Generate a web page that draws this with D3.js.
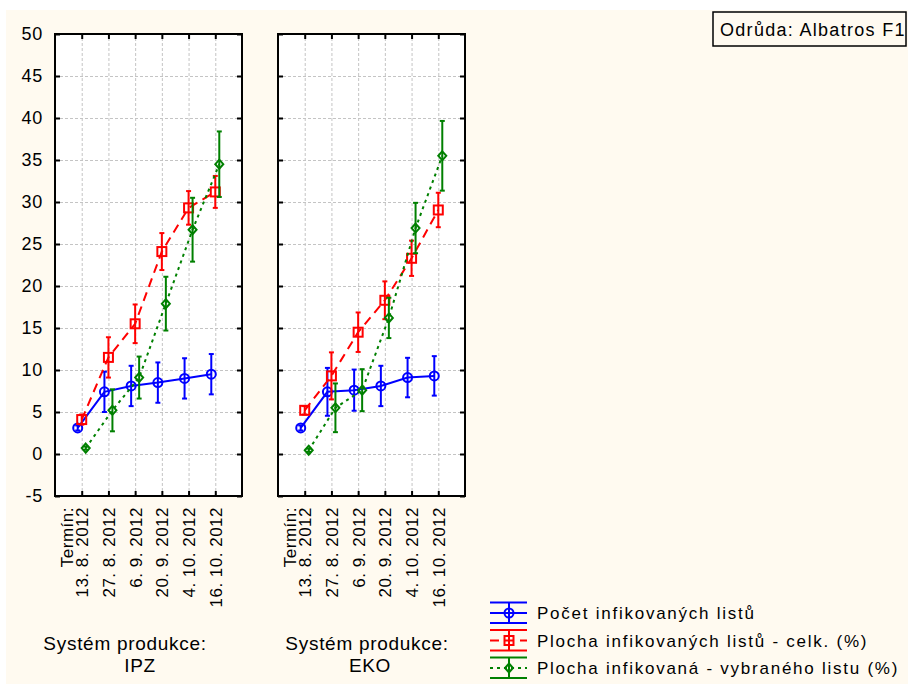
<!DOCTYPE html>
<html>
<head>
<meta charset="utf-8">
<script src="https://cdn.jsdelivr.net/npm/d3@7"></script>
<style>
    body { margin: 0; background: #fff; }
    text { font-family: "Liberation Sans", Arial, sans-serif; fill: #000; }
</style>
</head>
<body>
<svg id="chart" width="908" height="684"></svg>
<script>
// categories and tick labels
const dates = ["13. 8. 2012", "27. 8. 2012", "6. 9. 2012", "20. 9. 2012", "4. 10. 2012", "16. 10. 2012"]
const systems = ["IPZ", "EKO"]
const yTicks = [-5, 0, 5, 10, 15, 20, 25, 30, 35, 40, 45, 50]
const seriesNames = ["Počet infikovaných listů", "Plocha infikovaných listů - celk. (%)", "Plocha infikovaná - vybraného listu (%)"]

// IPZ means and error half-widths
const ipzPocet = [3.1, 7.4, 8.1, 8.5, 9.0, 9.5]
const ipzPocetErr = [0.3, 2.4, 2.4, 2.4, 2.4, 2.4]
const ipzPlocha = [4.1, 11.5, 15.5, 24.1, 29.3, 31.2]
const ipzPlochaErr = [0.6, 2.4, 2.3, 2.2, 2.0, 1.9]
const ipzVybrany = [0.7, 5.2, 9.1, 17.9, 26.7, 34.5]
const ipzVybranyErr = [0.2, 2.5, 2.5, 3.2, 3.8, 3.9]

// EKO means and error half-widths
const ekoPocet = [3.1, 7.4, 7.6, 8.1, 9.1, 9.3]
const ekoPocetErr = [0.3, 2.85, 2.45, 2.4, 2.35, 2.35]
const ekoPlocha = [5.2, 9.3, 14.5, 18.3, 23.3, 29.05]
const ekoPlochaErr = [0.5, 2.8, 2.35, 2.25, 2.1, 2.05]
const ekoVybrany = [0.45, 5.5, 7.6, 16.2, 26.9, 35.5]
const ekoVybranyErr = [0.2, 2.9, 2.5, 2.4, 3.0, 4.15]

const
    width = 908,
    height = 684,
    plot = { top: 34, bottom: 496, width: 187 },
    panelLefts = [55, 278]

const styles = [
    { color: "#0000ff", dash: null, marker: "circle", offset: -4 },
    { color: "#ff0000", dash: "9,6", marker: "square", offset: 0 },
    { color: "#008000", dash: "3,4", marker: "diamond", offset: 4 }
]

const panels = [
    { system: systems[0], values: [ipzPocet, ipzPlocha, ipzVybrany], errors: [ipzPocetErr, ipzPlochaErr, ipzVybranyErr] },
    { system: systems[1], values: [ekoPocet, ekoPlocha, ekoVybrany], errors: [ekoPocetErr, ekoPlochaErr, ekoVybranyErr] }
]

const svg = d3.select("#chart")

svg.append("rect")
    .attr("x", 6).attr("y", 10)
    .attr("width", width - 6).attr("height", height - 10)
    .attr("fill", "#fffaf0")

const y = d3.scaleLinear()
    .domain([-5, 50])
    .range([plot.bottom, plot.top])

function drawMarker(g, type, cx, cy, color) {
    if (type === "circle") {
        g.append("circle").attr("cx", cx).attr("cy", cy).attr("r", 4.5)
            .attr("fill", "none").attr("stroke", color).attr("stroke-width", 2)
    } else if (type === "square") {
        g.append("rect").attr("x", cx - 4.5).attr("y", cy - 4.5).attr("width", 9).attr("height", 9)
            .attr("fill", "none").attr("stroke", color).attr("stroke-width", 2)
    } else {
        g.append("path").attr("d", `M${cx},${cy - 4.5}L${cx + 4},${cy}L${cx},${cy + 4.5}L${cx - 4},${cy}Z`)
            .attr("fill", "none").attr("stroke", color).attr("stroke-width", 2)
    }
}

panels.forEach((p, i) => {
    const left = panelLefts[i]
    const right = left + plot.width

    const x = d3.scalePoint()
        .domain(dates)
        .range([left, right])
        .padding(1)

    const g = svg.append("g").attr("class", "panel-" + p.system)

    g.append("rect")
        .attr("x", left).attr("y", plot.top)
        .attr("width", plot.width).attr("height", plot.bottom - plot.top)
        .attr("fill", "#fff")

    // grid
    g.append("g")
        .attr("transform", `translate(${left},0)`)
        .call(d3.axisLeft(y).tickValues(yTicks).tickSize(-plot.width).tickFormat(""))
        .call(g => g.select(".domain").remove())
        .selectAll("line").attr("stroke", "#c4c4c4").attr("stroke-dasharray", "3,2")

    g.append("g")
        .attr("transform", `translate(0,${plot.bottom})`)
        .call(d3.axisBottom(x).tickSize(-(plot.bottom - plot.top)).tickFormat(""))
        .call(g => g.select(".domain").remove())
        .selectAll("line").attr("stroke", "#c4c4c4").attr("stroke-dasharray", "3,2")

    // inward ticks on all sides
    const yAxis = g.append("g")
        .attr("transform", `translate(${left},0)`)
        .call(d3.axisLeft(y).tickValues(yTicks).tickSizeInner(-5).tickSizeOuter(0).tickPadding(12)
            .tickFormat(i === 0 ? (d => String(d)) : ""))
        .call(g => g.select(".domain").remove())
    yAxis.selectAll("line").attr("stroke", "#000").attr("stroke-width", 2)
    yAxis.selectAll("text")
        .attr("font-size", 18).attr("letter-spacing", 0.8)
        .attr("font-family", "Liberation Sans, Arial, sans-serif")

    g.append("g")
        .attr("transform", `translate(${right},0)`)
        .call(d3.axisRight(y).tickValues(yTicks).tickSizeInner(-5).tickSizeOuter(0).tickFormat(""))
        .call(g => g.select(".domain").remove())
        .selectAll("line").attr("stroke", "#000").attr("stroke-width", 2)

    g.append("g")
        .attr("transform", `translate(0,${plot.top})`)
        .call(d3.axisTop(x).tickSizeInner(-5).tickSizeOuter(0).tickFormat(""))
        .call(g => g.select(".domain").remove())
        .selectAll("line").attr("stroke", "#000").attr("stroke-width", 2)

    const xAxis = g.append("g")
        .attr("transform", `translate(0,${plot.bottom})`)
        .call(d3.axisBottom(x).tickSizeInner(-5).tickSizeOuter(0))
        .call(g => g.select(".domain").remove())
    xAxis.selectAll("line").attr("stroke", "#000").attr("stroke-width", 2)
    xAxis.selectAll("text")
        .attr("transform", "rotate(-90)")
        .attr("x", -11).attr("y", 0).attr("dy", "0.35em")
        .attr("text-anchor", "end")
        .attr("font-size", 17).attr("letter-spacing", 0.5)
        .attr("font-family", "Liberation Sans, Arial, sans-serif")

    g.append("text")
        .attr("transform", `translate(${x(dates[0]) - 15},${plot.bottom + 11}) rotate(-90)`)
        .attr("dy", "0.35em")
        .attr("text-anchor", "end")
        .attr("font-size", 17).attr("letter-spacing", 0.5)
        .text("Termín:")

    // border
    g.append("rect")
        .attr("x", left).attr("y", plot.top)
        .attr("width", plot.width).attr("height", plot.bottom - plot.top)
        .attr("fill", "none").attr("stroke", "#000").attr("stroke-width", 2)

    // series
    p.values.forEach((vals, s) => {
        const st = styles[s]
        const errs = p.errors[s]
        const sx = j => x(dates[j]) + st.offset

        const line = d3.line()
            .x((d, j) => sx(j))
            .y(d => y(d))

        g.append("path")
            .datum(vals)
            .attr("d", line)
            .attr("fill", "none")
            .attr("stroke", st.color)
            .attr("stroke-width", 2)
            .attr("stroke-dasharray", st.dash)

        const eb = g.append("g").attr("stroke", st.color).attr("stroke-width", 2)
        vals.forEach((v, j) => {
            const cx = sx(j), y0 = y(v - errs[j]), y1 = y(v + errs[j])
            eb.append("line").attr("x1", cx).attr("x2", cx).attr("y1", y0).attr("y2", y1)
            eb.append("line").attr("x1", cx - 2.5).attr("x2", cx + 2.5).attr("y1", y0).attr("y2", y0)
            eb.append("line").attr("x1", cx - 2.5).attr("x2", cx + 2.5).attr("y1", y1).attr("y2", y1)
        })

        vals.forEach((v, j) => drawMarker(g, st.marker, sx(j), y(v), st.color))
    })
})

// system labels under the panels
const sysLabelX = [[125, 140], [367, 370]]
panels.forEach((p, i) => {
    svg.append("text")
        .attr("x", sysLabelX[i][0]).attr("y", 650)
        .attr("text-anchor", "middle")
        .attr("font-size", 19).attr("letter-spacing", 0.7)
        .text("Systém produkce:")
    svg.append("text")
        .attr("x", sysLabelX[i][1]).attr("y", 672)
        .attr("text-anchor", "middle")
        .attr("font-size", 19).attr("letter-spacing", 0.7)
        .text(p.system)
})

// legend
const legend = svg.append("g").attr("class", "legend")
seriesNames.forEach((name, s) => {
    const st = styles[s]
    const cy = 613 + s * 27.5
    const item = legend.append("g").attr("stroke", st.color).attr("stroke-width", 2)
    item.append("line").attr("x1", 490).attr("x2", 527).attr("y1", cy - 10.5).attr("y2", cy - 10.5)
    item.append("line").attr("x1", 490).attr("x2", 527).attr("y1", cy + 10).attr("y2", cy + 10)
    item.append("line").attr("x1", 509).attr("x2", 509).attr("y1", cy - 10.5).attr("y2", cy + 10)
    item.append("line").attr("x1", 490).attr("x2", 527).attr("y1", cy).attr("y2", cy)
        .attr("stroke-dasharray", st.dash)
    drawMarker(legend, st.marker, 509, cy, st.color)
    legend.append("text")
        .attr("x", 537).attr("y", cy + 6)
        .attr("font-size", 17).attr("letter-spacing", 1.75)
        .text(name)
})

// variety box
svg.append("rect")
    .attr("x", 713).attr("y", 12).attr("width", 193).attr("height", 34)
    .attr("fill", "#fffaf0").attr("stroke", "#000").attr("stroke-width", 1.5)
svg.append("text")
    .attr("x", 720).attr("y", 36)
    .attr("font-size", 18).attr("letter-spacing", 1.3)
    .text("Odrůda: Albatros F1")
</script>
</body>
</html>
